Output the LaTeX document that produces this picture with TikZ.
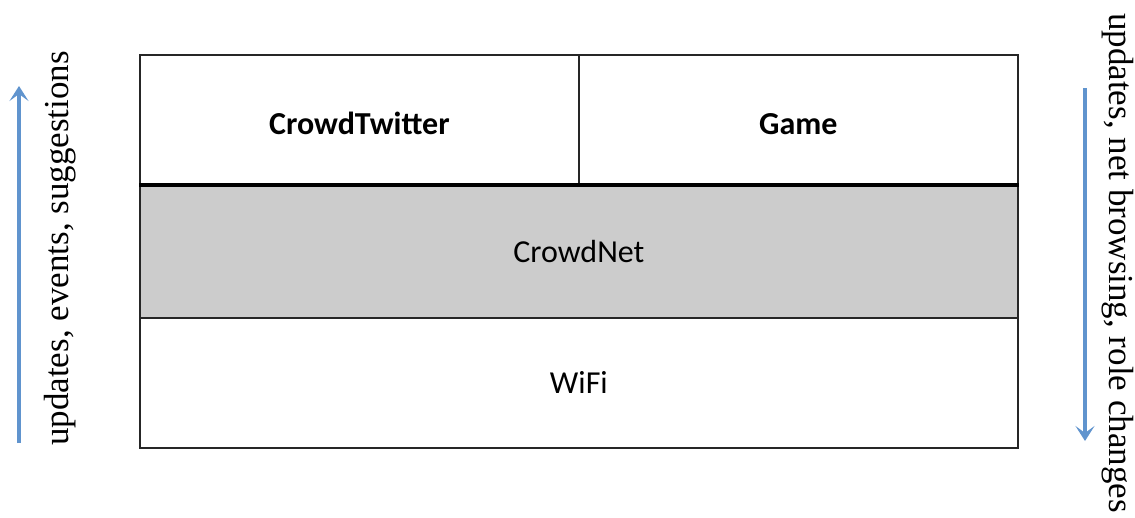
\documentclass[tikz,border=0pt]{standalone}
\usepackage{fontspec}
\setmainfont{Liberation Serif}
\newfontfamily\labelfont{Carlito}
\usetikzlibrary{arrows.meta}
\definecolor{layergray}{RGB}{204,204,204}
\definecolor{flowblue}{RGB}{96,148,206}
\tikzset{
  cell/.style={draw=black!85, line width=1.8pt, inner sep=0pt, anchor=north west,
    font=\labelfont\fontsize{32}{38}\selectfont},
  appcell/.style={cell, minimum width=439pt, minimum height=131pt,
    text height=28pt, text depth=0pt},
  flow/.style={draw=flowblue, line width=4.2pt,
    -{Stealth[length=15pt,width=19pt,inset=7pt]}},
  sidetext/.style={inner sep=0pt, font=\fontsize{35}{42}\selectfont}
}
\begin{document}
\begin{tikzpicture}[x=1pt,y=-1pt]
  \useasboundingbox (0,0) rectangle (1135,517);
  % protocol stack: application layer split in two, then CrowdNet, then WiFi
  \node[appcell] (twitter) at (139,54) {\bfseries CrowdTwitter};
  \node[appcell] (game) at (578,54) {\bfseries Game};
  \node[cell, fill=layergray, minimum width=878pt, minimum height=132pt] (crowdnet) at (139,185) {CrowdNet};
  \node[cell, minimum width=878pt, minimum height=130pt] (wifi) at (139,317) {WiFi};
  % heavier separator between applications and CrowdNet
  \draw[line width=3.6pt] (crowdnet.north west) -- (crowdnet.north east);
  % upward flow on the left
  \coordinate (upTail) at (19,443);
  \coordinate (upTip) at (19,86);
  \draw[flow] (upTail) -- (upTip);
  \node[sidetext, rotate=90, anchor=base west] (uplabel) at (68,446) {updates, events, suggestions};
  % downward flow on the right
  \coordinate (downTail) at (1085,88);
  \coordinate (downTip) at (1085,441);
  \draw[flow] (downTail) -- (downTip);
  \node[sidetext, rotate=-90, anchor=base west] (downlabel) at (1109,13) {updates, net browsing, role changes};
\end{tikzpicture}
\end{document}
